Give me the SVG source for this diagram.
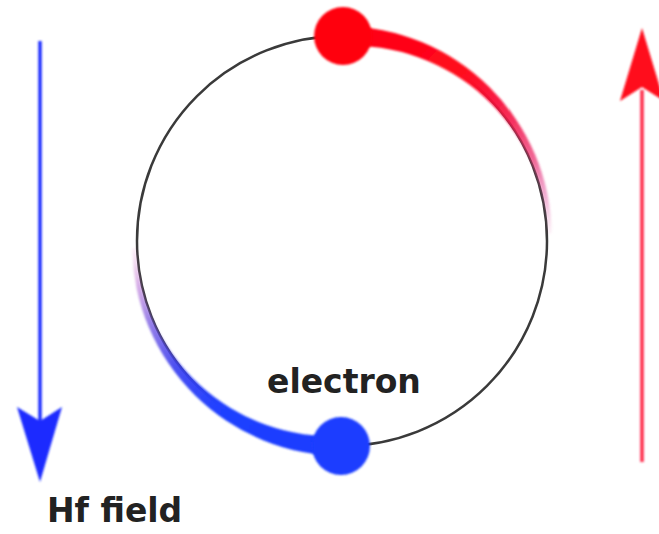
<svg xmlns="http://www.w3.org/2000/svg" width="659" height="534" viewBox="0 0 659 534">
<style>
.lbl{font-family:"DejaVu Sans","Liberation Sans",sans-serif;font-weight:bold;fill:#222}
.soft{filter:url(#soft)}
</style>
<defs>
<filter id="soft" x="-10%" y="-10%" width="120%" height="120%"><feGaussianBlur stdDeviation="0.9"/></filter>
<linearGradient id="gRed" gradientUnits="userSpaceOnUse" x1="350" y1="30" x2="552" y2="232">
<stop offset="0" stop-color="#ff0010"/>
<stop offset="0.4" stop-color="#ff0a20"/>
<stop offset="0.6" stop-color="#f51545" stop-opacity="0.92"/>
<stop offset="0.78" stop-color="#ea3070" stop-opacity="0.72"/>
<stop offset="0.9" stop-color="#e050a0" stop-opacity="0.45"/>
<stop offset="1" stop-color="#e070b0" stop-opacity="0.08"/>
</linearGradient>
<linearGradient id="gBlue" gradientUnits="userSpaceOnUse" x1="350" y1="30" x2="552" y2="232">
<stop offset="0" stop-color="#1a3cff"/>
<stop offset="0.4" stop-color="#2040ff"/>
<stop offset="0.6" stop-color="#3a40f0" stop-opacity="0.92"/>
<stop offset="0.78" stop-color="#7050e0" stop-opacity="0.72"/>
<stop offset="0.9" stop-color="#b060d0" stop-opacity="0.5"/>
<stop offset="1" stop-color="#e070c0" stop-opacity="0.1"/>
</linearGradient>
<path id="tailShape" d="M342 26 A211 211 0 0 1 551.87 233.67 L547.87 233.81 A196 196 0 0 0 342 46 Z"/>
</defs>
<rect width="659" height="534" fill="#ffffff"/>
<g id="orbit">
<circle cx="342" cy="241" r="205" fill="none" stroke="#3a3a3a" stroke-width="2.5"/>
</g>
<g id="red-tail" class="soft">
<use href="#tailShape" fill="url(#gRed)"/>
</g>
<g id="blue-tail" class="soft">
<use href="#tailShape" fill="url(#gBlue)" transform="rotate(180 342 241)"/>
</g>
<g id="electron-red" class="soft">
<circle cx="343" cy="36" r="29" fill="#ff0010"/>
</g>
<g id="electron-blue" class="soft">
<circle cx="341" cy="446" r="29" fill="#1a3cff"/>
</g>
<g id="hf-arrow" class="soft">
<line x1="40" y1="41" x2="40" y2="424" stroke="#1a2cff" stroke-width="3.5"/>
<polygon points="40,482 17,407 40,421 62,407" fill="#1a2cff"/>
</g>
<g id="red-arrow" class="soft">
<line x1="642" y1="90" x2="642" y2="462" stroke="#ff2a4a" stroke-width="3.5"/>
<polygon points="642,28 620,101 642,87 664,101" fill="#ff0a1e"/>
</g>
<text class="lbl" x="267" y="393" font-size="33">electron</text>
<text class="lbl" x="47" y="522" font-size="33">Hf field</text>
</svg>
